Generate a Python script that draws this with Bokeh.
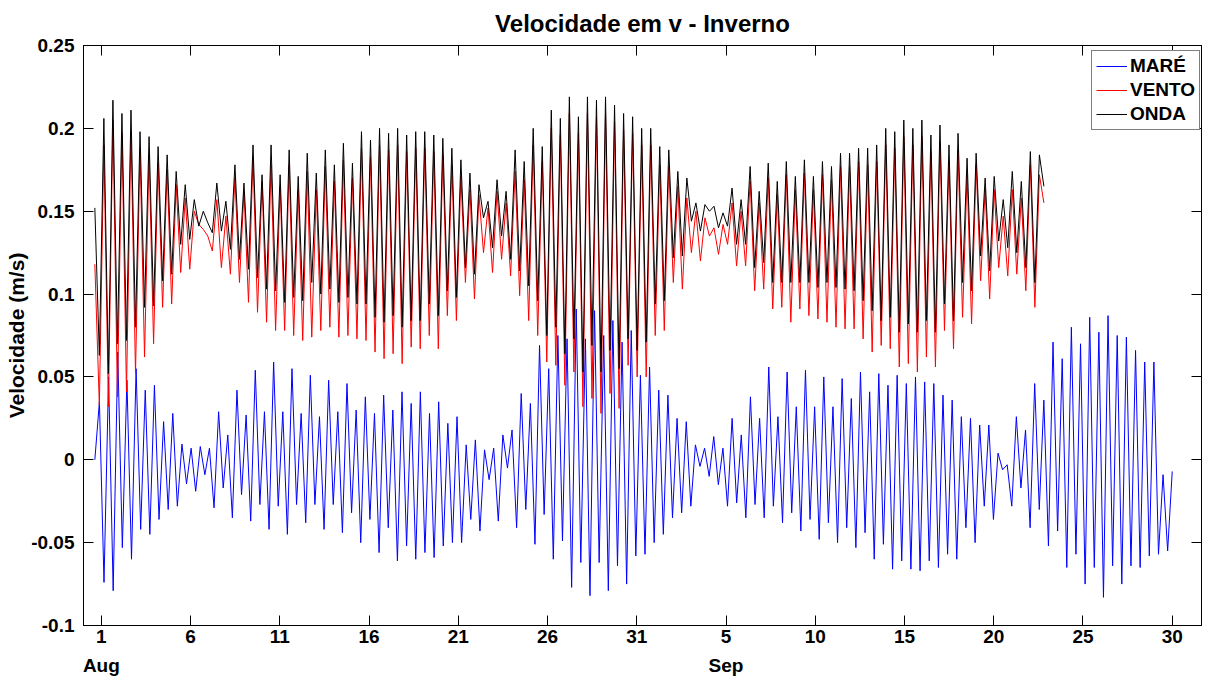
import numpy as np
from bokeh.plotting import figure
from bokeh.models import (ColumnDataSource, LinearAxis, FixedTicker, Legend, LegendItem,
                          Range1d, NumeralTickFormatter, CustomLabelingPolicy)
from bokeh.embed import file_html
from bokeh.resources import INLINE

# ---------------- data (extremes) ----------------
# time axis: day of August (1.0 = 1 Aug 00:00; 36 = 5 Sep)
mare_start, mare_end = 0.635, 61.0
wind_start, wind_end = 0.635, 53.81

mare = [0.0, 0.035,
        -0.074, 0.05, -0.079, 0.065, -0.053, 0.048, -0.06, 0.055, -0.042, 0.042, -0.045, 0.045, -0.036, 0.023,
        -0.03, 0.028, -0.028, 0.0095, -0.0145, 0.007, -0.019,
        0.008, -0.009, 0.007, -0.029, 0.029, -0.017, 0.015, -0.035, 0.042, -0.021, 0.027, -0.037, 0.054, -0.027,
        0.029, -0.042, 0.059, -0.028, 0.029, -0.045, 0.055, -0.027, 0.028, -0.038,
        0.051, -0.027, 0.026, -0.042, 0.048, -0.027, 0.029, -0.044, 0.046, -0.032, 0.03, -0.05, 0.038, -0.036,
        0.028, -0.056, 0.039, -0.041, 0.03, -0.061, 0.041, -0.052, 0.034, -0.06, 0.041,
        -0.056, 0.028, -0.059, 0.035, -0.052, 0.022, -0.05, 0.026, -0.05, 0.009, -0.036, 0.012, -0.043, 0.006,
        -0.012, 0.007, -0.037, 0.015, -0.005, 0.018, -0.041, 0.04, -0.03,
        0.034, -0.051, 0.069, -0.033, 0.055, -0.06, 0.075, -0.049, 0.073, -0.077, 0.091, -0.062, 0.073, -0.082,
        0.09, -0.062, 0.075, -0.079, 0.084, -0.064, 0.071, -0.075, 0.078, -0.058,
        0.051, -0.057, 0.056, -0.05, 0.042, -0.045, 0.039, -0.035, 0.025, -0.032, 0.023, -0.028, 0.009, -0.004,
        0.007, -0.01, 0.014, -0.015, 0.007, -0.028, 0.025, -0.026, 0.015,
        -0.035, 0.038, -0.027, 0.025, -0.035, 0.056, -0.028, 0.026, -0.038, 0.053, -0.032, 0.032, -0.043, 0.054,
        -0.036, 0.032, -0.048, 0.05, -0.038, 0.032, -0.05, 0.049, -0.041, 0.037, -0.053,
        0.053, -0.044, 0.041, -0.06, 0.052, -0.051, 0.045, -0.066, 0.051, -0.061, 0.046, -0.066, 0.05, -0.067,
        0.047, -0.061, 0.046, -0.065, 0.039, -0.057, 0.036, -0.06, 0.026, -0.041,
        0.025, -0.05, 0.021, -0.028, 0.021, -0.036, 0.004, -0.006, -0.003, -0.028, 0.026, -0.017, 0.018, -0.041,
        0.046, -0.03, 0.036, -0.052, 0.071, -0.043, 0.061, -0.065, 0.08,
        -0.057, 0.07, -0.075, 0.086, -0.065, 0.077, -0.083, 0.087, -0.064, 0.075, -0.075, 0.074, -0.064, 0.066,
        -0.065, 0.059, -0.058, 0.059, -0.057, -0.009, -0.055, -0.007]

onda = [0.152,
        0.063, 0.206, 0.052, 0.217, 0.07, 0.209, 0.072, 0.211, 0.08, 0.198, 0.092, 0.195, 0.093, 0.189, 0.108,
        0.184, 0.112, 0.174, 0.13, 0.166, 0.133, 0.157,
        0.141, 0.15, 0.143, 0.137, 0.167,
        0.138, 0.156, 0.127, 0.178, 0.121, 0.167, 0.115, 0.19, 0.11, 0.172, 0.103, 0.19, 0.102, 0.172, 0.095,
        0.187, 0.098, 0.171, 0.096, 0.185,
        0.107, 0.173, 0.1, 0.187, 0.103, 0.178, 0.095, 0.191, 0.098, 0.179, 0.094, 0.198, 0.094, 0.193, 0.086,
        0.2, 0.083, 0.197, 0.087, 0.2, 0.08, 0.196, 0.084, 0.198,
        0.084, 0.198, 0.094, 0.196, 0.087, 0.194, 0.102, 0.188, 0.098, 0.181, 0.116, 0.173, 0.112, 0.166,
        0.146, 0.156, 0.128, 0.169, 0.135, 0.162, 0.121, 0.187, 0.114, 0.18,
        0.105, 0.2, 0.096, 0.189, 0.075, 0.211, 0.08, 0.206, 0.064, 0.219, 0.073, 0.207, 0.053, 0.219, 0.069,
        0.217, 0.053, 0.219, 0.066, 0.214, 0.055, 0.209, 0.073, 0.207,
        0.066, 0.2, 0.071, 0.2, 0.094, 0.189, 0.096, 0.187, 0.122, 0.174, 0.123, 0.17, 0.144, 0.155, 0.138,
        0.154, 0.15, 0.153, 0.14, 0.149, 0.141, 0.164, 0.13, 0.157, 0.13,
        0.177, 0.116, 0.162, 0.119, 0.179, 0.107, 0.168, 0.107, 0.18, 0.107, 0.171, 0.107, 0.181, 0.107, 0.171,
        0.104, 0.18, 0.107, 0.177, 0.104, 0.185, 0.103, 0.185, 0.102, 0.188,
        0.096, 0.188, 0.09, 0.19, 0.084, 0.2, 0.086, 0.198, 0.077, 0.205, 0.082, 0.2, 0.077, 0.205, 0.084,
        0.196, 0.077, 0.202, 0.094, 0.19, 0.084, 0.197, 0.107, 0.182,
        0.102, 0.185, 0.123, 0.17, 0.114, 0.171, 0.132, 0.157, 0.128, 0.174, 0.125, 0.168, 0.116, 0.186, 0.107,
        0.184, 0.165]

vento = [0.118,
         0.033, 0.19, 0.032, 0.205, 0.038, 0.197, 0.041, 0.198, 0.052, 0.187, 0.062, 0.184, 0.07, 0.179, 0.092,
         0.175, 0.094, 0.166, 0.113, 0.158, 0.115, 0.15,
         0.142, 0.139, 0.135, 0.126, 0.157,
         0.116, 0.147, 0.112, 0.17, 0.107, 0.162, 0.095, 0.182, 0.089, 0.168, 0.083, 0.178, 0.078, 0.165, 0.078,
         0.178, 0.075, 0.163, 0.072, 0.174,
         0.074, 0.163, 0.078, 0.177, 0.08, 0.168, 0.074, 0.181, 0.075, 0.17, 0.073, 0.188, 0.072, 0.183, 0.065,
         0.19, 0.061, 0.187, 0.064, 0.19, 0.058, 0.186, 0.068, 0.188,
         0.067, 0.188, 0.075, 0.186, 0.067, 0.184, 0.087, 0.178, 0.084, 0.171, 0.107, 0.163, 0.097, 0.16,
         0.125, 0.152, 0.113, 0.162, 0.121, 0.155, 0.111, 0.174, 0.099, 0.169,
         0.084, 0.19, 0.075, 0.18, 0.059, 0.2, 0.057, 0.196, 0.045, 0.209, 0.053, 0.197, 0.032, 0.209, 0.037,
         0.207, 0.028, 0.209, 0.04, 0.204, 0.031, 0.199, 0.057, 0.197,
         0.05, 0.19, 0.05, 0.19, 0.075, 0.178, 0.078, 0.177, 0.107, 0.165, 0.103, 0.158, 0.125, 0.15, 0.12,
         0.146, 0.135, 0.14, 0.124, 0.142, 0.13, 0.155, 0.117, 0.15, 0.117,
         0.168, 0.102, 0.155, 0.103, 0.17, 0.091, 0.16, 0.092, 0.172, 0.083, 0.163, 0.091, 0.173, 0.087, 0.163,
         0.085, 0.172, 0.083, 0.169, 0.08, 0.177, 0.079, 0.177, 0.079, 0.18,
         0.073, 0.178, 0.065, 0.18, 0.069, 0.19, 0.067, 0.188, 0.056, 0.195, 0.058, 0.19, 0.053, 0.195, 0.062,
         0.186, 0.056, 0.192, 0.078, 0.18, 0.067, 0.187, 0.086, 0.172,
         0.082, 0.178, 0.108, 0.163, 0.097, 0.163, 0.116, 0.147, 0.111, 0.163, 0.112, 0.158, 0.102, 0.178, 0.092,
         0.172, 0.155]

tick_days = [1, 6, 11, 16, 21, 26, 31, 36, 41, 46, 51, 56, 61]
tick_labels = ["1", "6", "11", "16", "21", "26", "31", "5", "10", "15", "20", "25", "30"]
month_days = [1, 36]
month_labels = ["Aug", "Sep"]
y_ticks = [-0.1, -0.05, 0, 0.05, 0.1, 0.15, 0.2, 0.25]
y_tick_labels = ["-0.1", "-0.05", "0", "0.05", "0.1", "0.15", "0.2", "0.25"]

series_names = ["MARÉ", "VENTO", "ONDA"]
series_colors = ["#0000ff", "#ff0000", "#000000"]
title_text = "Velocidade em v - Inverno"

# ---------------- figure ----------------
FONT = "Liberation Sans"
p = figure(width=1206, height=678, output_backend="svg", toolbar_location=None,
           x_range=Range1d(0, 62.64), y_range=Range1d(-0.1, 0.25),
           min_border_left=83, min_border_right=5, min_border_top=45, min_border_bottom=53,
           background_fill_color="white", border_fill_color="white")
p.xgrid.visible = False
p.ygrid.visible = False
p.outline_line_color = "black"
p.outline_line_width = 1

src_m = ColumnDataSource(dict(x=np.linspace(mare_start, mare_end, len(mare)), y=mare))
src_v = ColumnDataSource(dict(x=np.linspace(wind_start, wind_end, len(vento)), y=vento))
src_o = ColumnDataSource(dict(x=np.linspace(wind_start, wind_end, len(onda)), y=onda))

r_m = p.line("x", "y", source=src_m, line_color=series_colors[0], line_width=1)
r_v = p.line("x", "y", source=src_v, line_color=series_colors[1], line_width=1)
r_o = p.line("x", "y", source=src_o, line_color=series_colors[2], line_width=1)

NO_LABELS_JS = """
try {
  const n = indices.size
  for (let i = 0; i < n; i++) { indices.unset(i) }
} catch (e) {}
return indices
"""


def style_axis(ax, labels=True):
    ax.axis_line_color = "black"
    ax.major_tick_line_color = "black"
    ax.major_tick_in = 10
    ax.major_tick_out = 0
    ax.minor_tick_line_color = None
    ax.major_label_text_font = FONT
    ax.major_label_text_font_style = "bold"
    ax.major_label_text_color = "black"
    if labels:
        ax.major_label_text_font_size = "19px"
    else:
        ax.major_label_text_font_size = "0px"
        ax.major_label_standoff = 0
        ax.major_label_policy = CustomLabelingPolicy(code=NO_LABELS_JS)


xa = p.xaxis[0]
xa.ticker = FixedTicker(ticks=tick_days)
xa.major_label_overrides = {d: s for d, s in zip(tick_days, tick_labels)}
style_axis(xa)
xa.major_label_standoff = 4

# month names on a second row below the day numbers
month_axis = LinearAxis(ticker=FixedTicker(ticks=month_days),
                        major_label_overrides={d: s for d, s in zip(month_days, month_labels)})
style_axis(month_axis)
month_axis.axis_line_color = None
month_axis.major_tick_line_color = None
month_axis.major_tick_in = 0
month_axis.major_label_standoff = 9
p.add_layout(month_axis, "below")

ya = p.yaxis[0]
ya.ticker = FixedTicker(ticks=y_ticks)
ya.formatter = NumeralTickFormatter(format="0.[00]")
ya.major_label_overrides = {v: s for v, s in zip(y_ticks, y_tick_labels)}
style_axis(ya)
ya.major_label_standoff = 9
ya.axis_label = "Velocidade (m/s)"
ya.axis_label_text_font = FONT
ya.axis_label_text_font_style = "bold"
ya.axis_label_text_font_size = "21px"
ya.axis_label_text_color = "black"
ya.axis_label_standoff = 0

# top axis: ticks only, carries the chart title as its label
top = LinearAxis(ticker=FixedTicker(ticks=tick_days))
style_axis(top, labels=False)
top.axis_label = title_text
top.axis_label_text_font = FONT
top.axis_label_text_font_style = "bold"
top.axis_label_text_font_size = "24px"
top.axis_label_text_color = "black"
top.axis_label_standoff = 9
p.add_layout(top, "above")

right = LinearAxis(ticker=FixedTicker(ticks=y_ticks))
style_axis(right, labels=False)
p.add_layout(right, "right")

legend = Legend(items=[LegendItem(label=n, renderers=[r]) for n, r in zip(series_names, [r_m, r_v, r_o])],
                location=(1008, 495))
legend.label_text_font = FONT
legend.label_text_font_style = "bold"
legend.label_text_font_size = "19px"
legend.label_text_color = "black"
legend.glyph_width = 31
legend.glyph_height = 20
legend.label_height = 20
legend.label_standoff = 3
legend.spacing = 2
legend.padding = 4
legend.margin = 0
legend.border_line_color = "black"
legend.border_line_width = 1
legend.background_fill_color = "white"
legend.background_fill_alpha = 1
p.add_layout(legend, "center")

open("out.html", "w").write(file_html(p, INLINE))
